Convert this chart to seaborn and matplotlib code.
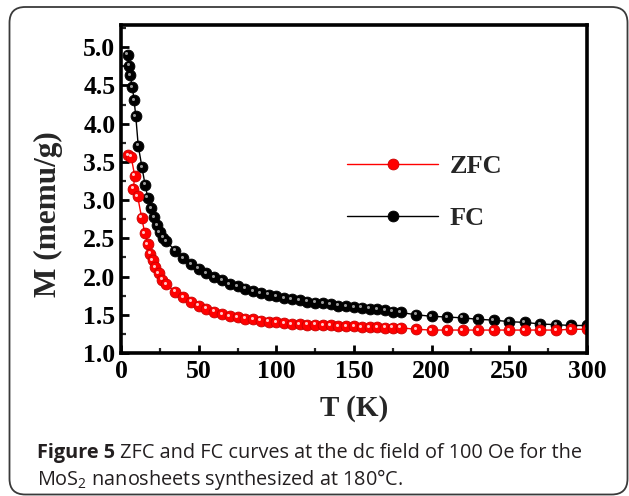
import matplotlib
matplotlib.use("Agg")
import matplotlib.pyplot as plt
import matplotlib.transforms as mtransforms
from matplotlib.lines import Line2D
from matplotlib.patches import FancyBboxPatch
from matplotlib.ticker import MultipleLocator
import seaborn as sns
import pandas as pd

# ---------------- data ----------------
fc_T = [4.3, 5.2, 5.8, 7.3, 8.4, 9.5, 11.1, 13.5, 15.5, 17.3, 19.3, 21.2, 23.3, 25.0, 27.1, 29.0,
        35, 40, 45, 50, 55, 60, 65, 70, 75, 80, 85, 90, 95, 100, 105, 110, 115, 120, 125, 130,
        135, 140, 145, 150, 155, 160, 165, 170, 175, 180,
        190, 200, 210, 220, 230, 240, 250, 260, 270, 280, 290, 300]
fc_M = [4.90, 4.76, 4.63, 4.48, 4.31, 4.10, 3.71, 3.43, 3.20, 3.03, 2.89, 2.78, 2.67, 2.58, 2.51, 2.46,
        2.34, 2.24, 2.16, 2.10, 2.04, 1.99, 1.95, 1.90, 1.87, 1.84, 1.81, 1.78, 1.76, 1.74, 1.72, 1.70,
        1.69, 1.67, 1.66, 1.65, 1.64, 1.62, 1.61, 1.60, 1.59, 1.58, 1.57, 1.56, 1.54, 1.53,
        1.50, 1.48, 1.47, 1.46, 1.44, 1.43, 1.41, 1.40, 1.38, 1.37, 1.36, 1.36]

zfc_T = [4.7, 6.5, 8.8, 8.0, 10.7, 13.3, 15.3, 17.2, 18.8, 20.4, 22.2, 24.3, 26.6, 29.0,
         35, 40, 45, 50, 55, 60, 65, 70, 75, 80, 85, 90, 95, 100, 105, 110, 115, 120, 125, 130,
         135, 140, 145, 150, 155, 160, 165, 170, 175, 180,
         190, 200, 210, 220, 230, 240, 250, 260, 270, 280, 290, 300]
zfc_M = [3.59, 3.57, 3.32, 3.15, 3.05, 2.77, 2.57, 2.42, 2.30, 2.21, 2.12, 2.04, 1.96, 1.90,
         1.80, 1.73, 1.67, 1.62, 1.58, 1.54, 1.51, 1.48, 1.47, 1.45, 1.44, 1.42, 1.41, 1.40, 1.39, 1.38,
         1.38, 1.37, 1.37, 1.36, 1.36, 1.35, 1.35, 1.35, 1.34, 1.34, 1.34, 1.33, 1.33, 1.33,
         1.31, 1.30, 1.30, 1.30, 1.30, 1.30, 1.30, 1.30, 1.30, 1.30, 1.31, 1.31]

series_names = ["ZFC", "FC"]
x_ticks = [0, 50, 100, 150, 200, 250, 300]
y_ticks = [1.0, 1.5, 2.0, 2.5, 3.0, 3.5, 4.0, 4.5, 5.0]
x_label = "T (K)"
y_label = "M (memu/g)"
caption_bold = "Figure 5"
caption_rest = " ZFC and FC curves at the dc field of 100 Oe for the"
caption_line2 = "MoS$_2$ nanosheets synthesized at 180°C."

# ---------------- style ----------------
sns.set_style("ticks")
plt.rcParams["font.family"] = ["Liberation Serif", "DejaVu Serif"]
plt.rcParams["font.weight"] = "bold"
plt.rcParams["mathtext.fontset"] = "custom"
plt.rcParams["mathtext.rm"] = "Open Sans:weight=normal"

fig = plt.figure(figsize=(6.29, 4.96), dpi=100)
fig.patch.set_facecolor("white")
ax = fig.add_axes([121 / 629, 1 - 353 / 496, 466 / 629, 328 / 496])

df_z = pd.DataFrame({"T": zfc_T, "M": zfc_M})
df_f = pd.DataFrame({"T": fc_T, "M": fc_M})

styles = {
    "ZFC": dict(face="#ff0000", edge="#c80000", hl="#ffc8c8", line="#ff0000"),
    "FC": dict(face="#000000", edge="#000000", hl="#9a9a9a", line="#000000"),
}

hl_off = mtransforms.offset_copy(ax.transData, fig=fig, x=-1.4, y=1.4, units="dots")
for name, df in (("FC", df_f), ("ZFC", df_z)):
    st = styles[name]
    sns.lineplot(data=df, x="T", y="M", sort=False, ax=ax, color=st["line"], lw=1.0,
                 marker="o", markersize=7.8, markerfacecolor=st["face"],
                 markeredgecolor=st["edge"], markeredgewidth=0.6, legend=False)
    ax.plot(df["T"], df["M"], ls="none", marker="o", markersize=2.2,
            markerfacecolor=st["hl"], markeredgecolor="none", transform=hl_off)

ax.set_xlim(0, 300)
ax.set_ylim(1.0, 5.29)
ax.set_xticks(x_ticks)
ax.set_yticks(y_ticks)
ax.set_xticklabels([str(t) for t in x_ticks])
ax.set_yticklabels([f"{t:.1f}" for t in y_ticks])
ax.xaxis.set_minor_locator(MultipleLocator(25))
ax.yaxis.set_minor_locator(MultipleLocator(0.25))
ax.tick_params(which="major", direction="in", length=6, width=2, labelsize=18.5,
               top=False, right=False, colors="black")
ax.tick_params(axis="y", which="major", pad=4)
ax.tick_params(axis="x", which="major", pad=5)
ax.tick_params(which="minor", direction="in", length=3.5, width=1.6, top=False, right=False)
for lab in ax.get_xticklabels() + ax.get_yticklabels():
    lab.set_fontweight("bold")
for sp in ax.spines.values():
    sp.set_linewidth(2.6)
    sp.set_color("black")
    sp.set_visible(True)

ax.set_xlabel(x_label, fontsize=21, fontweight="bold")
ax.set_ylabel(y_label, fontsize=22.5, fontweight="bold")
ax.xaxis.label.set_va("center")
ax.yaxis.label.set_va("center")
ax.xaxis.set_label_coords(0.5, (353 - 408) / 328)
ax.yaxis.set_label_coords((48 - 121) / 466, (353 - 214) / 328)

handles = []
for name in series_names:
    st = styles[name]
    handles.append(Line2D([], [], color=st["line"], lw=1.0, marker="o", markersize=7.8,
                          markerfacecolor=st["face"], markeredgecolor=st["edge"],
                          markeredgewidth=0.6))
leg = ax.legend(handles, series_names, loc="upper left", bbox_to_anchor=(0.485, 0.605),
                frameon=False, borderpad=0, borderaxespad=0, handlelength=3.45,
                handletextpad=0.45, labelspacing=1.08, prop=dict(size=19, weight="bold"))

# caption
fig.canvas.draw()
r = fig.canvas.get_renderer()
t1 = fig.text(37 / 629, 1 - 458 / 496, caption_bold, family="Open Sans", weight="bold",
              fontsize=14.3, color="#231f20", va="baseline", ha="left")
bb = t1.get_window_extent(renderer=r)
fig.text(bb.x1 / fig.bbox.width, 1 - 458 / 496, caption_rest, family="Open Sans",
         weight="normal", fontsize=14.3, color="#231f20", va="baseline", ha="left")
fig.text(37 / 629, 1 - 485 / 496, caption_line2, family="Open Sans", weight="normal",
         fontsize=14.3, color="#231f20", va="baseline", ha="left")

# frame
frame = FancyBboxPatch((9.5 / 629, 1.5 / 496), (627.5 - 9.5) / 629, (489 - 1.5) / 496,
                       boxstyle="round,pad=0,rounding_size=0.025", transform=fig.transFigure,
                       fill=False, edgecolor="#3a3a3a", lw=1.3, mutation_aspect=629 / 496)
fig.patches.append(frame)

fig.savefig("out.png", dpi=100, facecolor="white")
